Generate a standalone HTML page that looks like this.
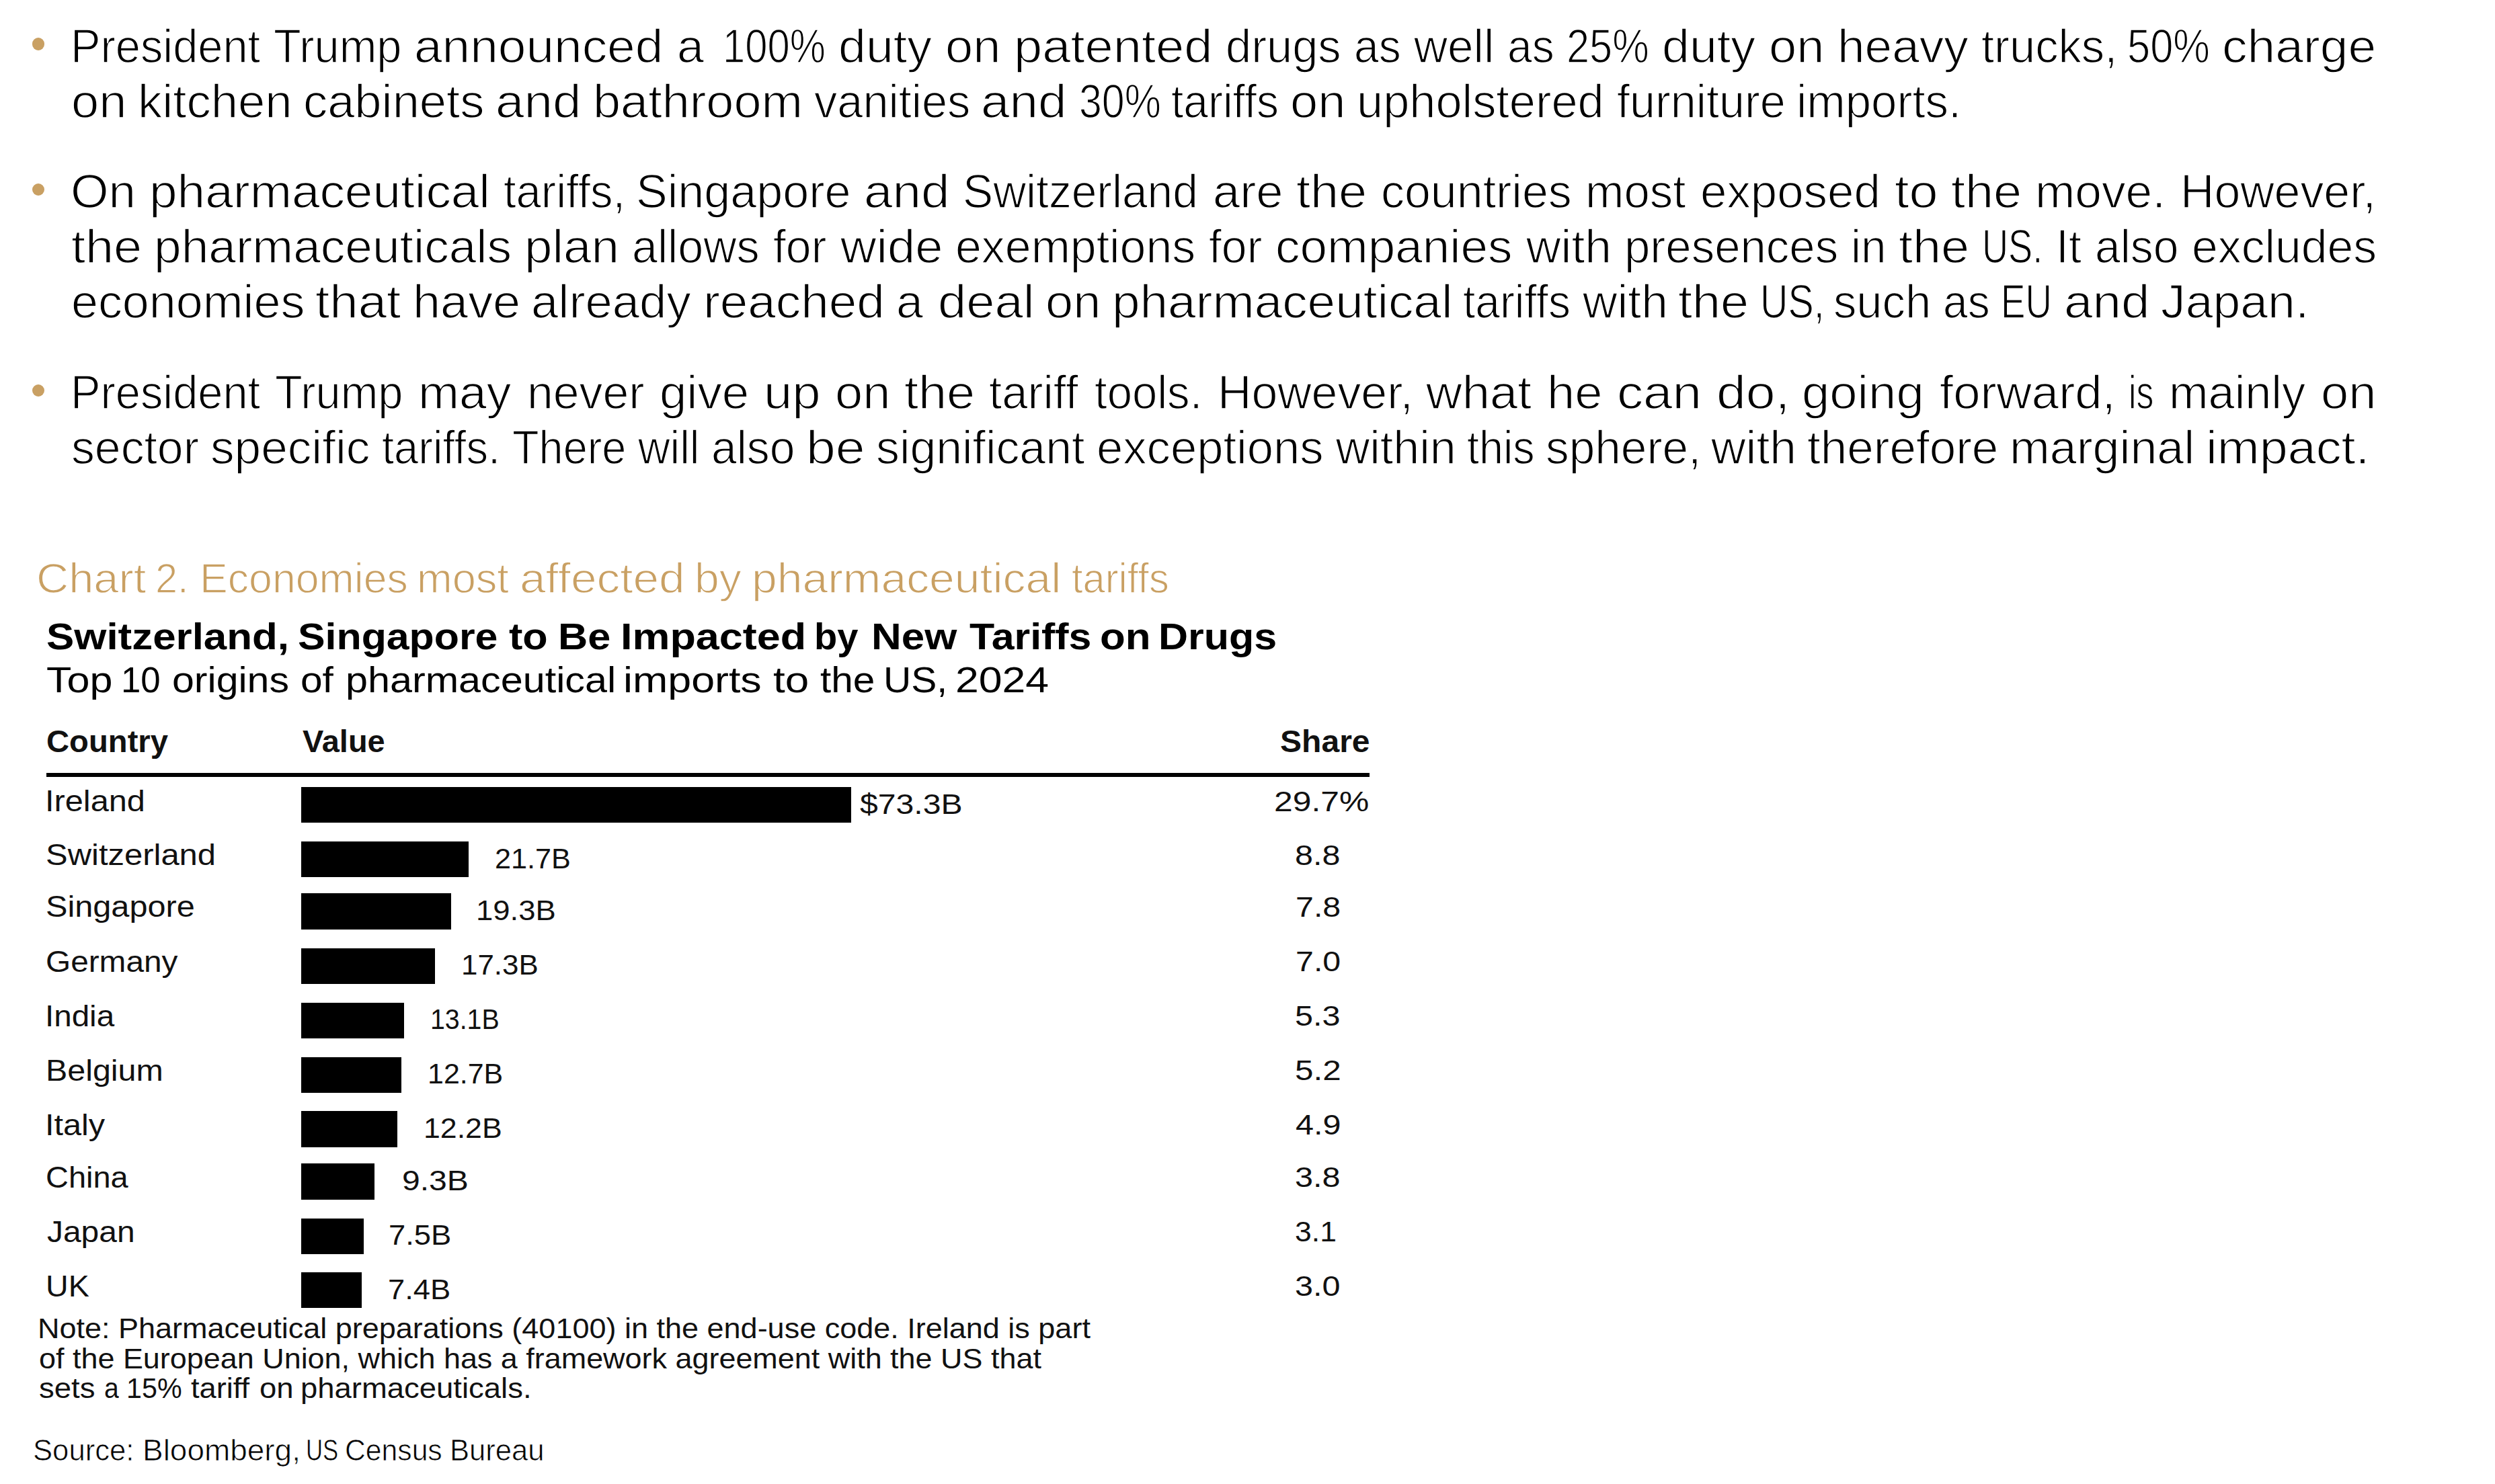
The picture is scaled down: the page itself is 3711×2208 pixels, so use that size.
<!DOCTYPE html>
<html><head><meta charset="utf-8"><title>Chart 2</title><style>
html,body{margin:0;padding:0;background:#fff;}
body{width:3711px;height:2208px;position:relative;overflow:hidden;font-family:"Liberation Sans",sans-serif;}
.t,.g,.gt,.gs{position:absolute;white-space:nowrap;transform-origin:0 0;}
.g{font-size:70px;line-height:70px;color:#000;-webkit-text-stroke:1.4px #fff;}
.gt{font-size:62.5px;line-height:62.5px;color:#C9A063;-webkit-text-stroke:1.3px #fff;}
.gs{font-size:44px;line-height:44px;color:#000;-webkit-text-stroke:0.7px #fff;}
.bar{position:absolute;background:#000;}
.dot{position:absolute;width:18.6px;height:18.6px;border-radius:50%;background:#C9A063;}
.rule{position:absolute;left:69px;top:1150px;width:1968px;height:6px;background:#000;}
</style></head><body>
<div class="dot" style="left:47.5px;top:56.0px"></div>
<div class="dot" style="left:47.6px;top:272.6px"></div>
<div class="dot" style="left:47.6px;top:571.6px"></div>
<span class="g" style="left:105.2px;top:33.9px;transform:scaleX(0.954)">President</span>
<span class="g" style="left:406.9px;top:33.9px;transform:scaleX(0.954)">Trump</span>
<span class="g" style="left:616.3px;top:33.9px;transform:scaleX(1.069)">announced</span>
<span class="g" style="left:1006.5px;top:33.9px;transform:scaleX(1.027)">a</span>
<span class="g" style="left:1075.2px;top:33.9px;transform:scaleX(0.854)">100%</span>
<span class="g" style="left:1247.1px;top:33.9px;transform:scaleX(1.050)">duty</span>
<span class="g" style="left:1406.4px;top:33.9px;transform:scaleX(1.058)">on</span>
<span class="g" style="left:1507.6px;top:33.9px;transform:scaleX(1.084)">patented</span>
<span class="g" style="left:1822.8px;top:33.9px;transform:scaleX(0.980)">drugs</span>
<span class="g" style="left:2013.6px;top:33.9px;transform:scaleX(0.942)">as</span>
<span class="g" style="left:2103.3px;top:33.9px;transform:scaleX(0.989)">well</span>
<span class="g" style="left:2242.1px;top:33.9px;transform:scaleX(0.942)">as</span>
<span class="g" style="left:2330.3px;top:33.9px;transform:scaleX(0.876)">25%</span>
<span class="g" style="left:2471.9px;top:33.9px;transform:scaleX(1.050)">duty</span>
<span class="g" style="left:2631.2px;top:33.9px;transform:scaleX(1.058)">on</span>
<span class="g" style="left:2732.5px;top:33.9px;transform:scaleX(1.042)">heavy</span>
<span class="g" style="left:2946.7px;top:33.9px;transform:scaleX(0.981)">trucks,</span>
<span class="g" style="left:3163.7px;top:33.9px;transform:scaleX(0.877)">50%</span>
<span class="g" style="left:3305.4px;top:33.9px;transform:scaleX(1.071)">charge</span>
<span class="g" style="left:105.8px;top:116.1px;transform:scaleX(1.058)">on</span>
<span class="g" style="left:204.8px;top:116.1px;transform:scaleX(1.035)">kitchen</span>
<span class="g" style="left:451.3px;top:116.1px;transform:scaleX(1.033)">cabinets</span>
<span class="g" style="left:737.2px;top:116.1px;transform:scaleX(1.092)">and</span>
<span class="g" style="left:882.0px;top:116.1px;transform:scaleX(1.055)">bathroom</span>
<span class="g" style="left:1210.6px;top:116.1px;transform:scaleX(0.979)">vanities</span>
<span class="g" style="left:1459.4px;top:116.1px;transform:scaleX(1.092)">and</span>
<span class="g" style="left:1604.7px;top:116.1px;transform:scaleX(0.870)">30%</span>
<span class="g" style="left:1742.3px;top:116.1px;transform:scaleX(0.942)">tariffs</span>
<span class="g" style="left:1919.0px;top:116.1px;transform:scaleX(1.058)">on</span>
<span class="g" style="left:2018.2px;top:116.1px;transform:scaleX(1.005)">upholstered</span>
<span class="g" style="left:2404.7px;top:116.1px;transform:scaleX(0.976)">furniture</span>
<span class="g" style="left:2672.2px;top:116.1px;transform:scaleX(0.985)">imports.</span>
<span class="g" style="left:104.6px;top:250.0px;transform:scaleX(1.039)">On</span>
<span class="g" style="left:222.2px;top:250.0px;transform:scaleX(1.068)">pharmaceutical</span>
<span class="g" style="left:748.9px;top:250.0px;transform:scaleX(0.957)">tariffs,</span>
<span class="g" style="left:945.5px;top:250.0px;transform:scaleX(1.001)">Singapore</span>
<span class="g" style="left:1285.3px;top:250.0px;transform:scaleX(1.092)">and</span>
<span class="g" style="left:1432.4px;top:250.0px;transform:scaleX(0.967)">Switzerland</span>
<span class="g" style="left:1804.3px;top:250.0px;transform:scaleX(1.032)">are</span>
<span class="g" style="left:1928.1px;top:250.0px;transform:scaleX(1.081)">the</span>
<span class="g" style="left:2053.6px;top:250.0px;transform:scaleX(0.999)">countries</span>
<span class="g" style="left:2358.0px;top:250.0px;transform:scaleX(0.984)">most</span>
<span class="g" style="left:2529.3px;top:250.0px;transform:scaleX(1.012)">exposed</span>
<span class="g" style="left:2817.9px;top:250.0px;transform:scaleX(1.105)">to</span>
<span class="g" style="left:2901.9px;top:250.0px;transform:scaleX(1.081)">the</span>
<span class="g" style="left:3027.4px;top:250.0px;transform:scaleX(1.018)">move.</span>
<span class="g" style="left:3242.5px;top:250.0px;transform:scaleX(0.997)">However,</span>
<span class="g" style="left:105.6px;top:332.0px;transform:scaleX(1.081)">the</span>
<span class="g" style="left:229.3px;top:332.0px;transform:scaleX(1.044)">pharmaceuticals</span>
<span class="g" style="left:779.8px;top:332.0px;transform:scaleX(1.065)">plan</span>
<span class="g" style="left:939.9px;top:332.0px;transform:scaleX(0.975)">allows</span>
<span class="g" style="left:1149.5px;top:332.0px;transform:scaleX(0.970)">for</span>
<span class="g" style="left:1249.9px;top:332.0px;transform:scaleX(1.058)">wide</span>
<span class="g" style="left:1420.9px;top:332.0px;transform:scaleX(0.998)">exemptions</span>
<span class="g" style="left:1798.0px;top:332.0px;transform:scaleX(0.970)">for</span>
<span class="g" style="left:1897.2px;top:332.0px;transform:scaleX(1.041)">companies</span>
<span class="g" style="left:2269.6px;top:332.0px;transform:scaleX(1.020)">with</span>
<span class="g" style="left:2415.9px;top:332.0px;transform:scaleX(0.985)">presences</span>
<span class="g" style="left:2753.1px;top:332.0px;transform:scaleX(0.963)">in</span>
<span class="g" style="left:2823.9px;top:332.0px;transform:scaleX(1.081)">the</span>
<span class="g" style="left:2947.9px;top:332.0px;transform:scaleX(0.773)">US.</span>
<span class="g" style="left:3057.8px;top:332.0px;transform:scaleX(0.971)">It</span>
<span class="g" style="left:3116.0px;top:332.0px;transform:scaleX(0.969)">also</span>
<span class="g" style="left:3259.7px;top:332.0px;transform:scaleX(0.996)">excludes</span>
<span class="g" style="left:105.6px;top:413.9px;transform:scaleX(1.026)">economies</span>
<span class="g" style="left:468.5px;top:413.9px;transform:scaleX(1.090)">that</span>
<span class="g" style="left:613.7px;top:413.9px;transform:scaleX(1.055)">have</span>
<span class="g" style="left:790.3px;top:413.9px;transform:scaleX(1.035)">already</span>
<span class="g" style="left:1045.8px;top:413.9px;transform:scaleX(1.066)">reached</span>
<span class="g" style="left:1333.1px;top:413.9px;transform:scaleX(1.026)">a</span>
<span class="g" style="left:1394.6px;top:413.9px;transform:scaleX(1.085)">deal</span>
<span class="g" style="left:1554.8px;top:413.9px;transform:scaleX(1.057)">on</span>
<span class="g" style="left:1653.6px;top:413.9px;transform:scaleX(1.067)">pharmaceutical</span>
<span class="g" style="left:2175.9px;top:413.9px;transform:scaleX(0.941)">tariffs</span>
<span class="g" style="left:2353.5px;top:413.9px;transform:scaleX(1.019)">with</span>
<span class="g" style="left:2496.3px;top:413.9px;transform:scaleX(1.080)">the</span>
<span class="g" style="left:2617.7px;top:413.9px;transform:scaleX(0.819)">US,</span>
<span class="g" style="left:2727.4px;top:413.9px;transform:scaleX(0.982)">such</span>
<span class="g" style="left:2889.8px;top:413.9px;transform:scaleX(0.941)">as</span>
<span class="g" style="left:2976.3px;top:413.9px;transform:scaleX(0.780)">EU</span>
<span class="g" style="left:3070.3px;top:413.9px;transform:scaleX(1.091)">and</span>
<span class="g" style="left:3214.1px;top:413.9px;transform:scaleX(1.048)">Japan.</span>
<span class="g" style="left:104.5px;top:548.9px;transform:scaleX(0.954)">President</span>
<span class="g" style="left:409.2px;top:548.9px;transform:scaleX(0.954)">Trump</span>
<span class="g" style="left:621.7px;top:548.9px;transform:scaleX(1.046)">may</span>
<span class="g" style="left:783.6px;top:548.9px;transform:scaleX(0.996)">never</span>
<span class="g" style="left:981.1px;top:548.9px;transform:scaleX(1.037)">give</span>
<span class="g" style="left:1135.8px;top:548.9px;transform:scaleX(1.086)">up</span>
<span class="g" style="left:1242.0px;top:548.9px;transform:scaleX(1.058)">on</span>
<span class="g" style="left:1345.4px;top:548.9px;transform:scaleX(1.081)">the</span>
<span class="g" style="left:1471.4px;top:548.9px;transform:scaleX(0.984)">tariff</span>
<span class="g" style="left:1627.7px;top:548.9px;transform:scaleX(0.958)">tools.</span>
<span class="g" style="left:1810.7px;top:548.9px;transform:scaleX(0.997)">However,</span>
<span class="g" style="left:2121.2px;top:548.9px;transform:scaleX(1.061)">what</span>
<span class="g" style="left:2301.3px;top:548.9px;transform:scaleX(1.060)">he</span>
<span class="g" style="left:2405.4px;top:548.9px;transform:scaleX(1.117)">can</span>
<span class="g" style="left:2553.1px;top:548.9px;transform:scaleX(1.125)">do,</span>
<span class="g" style="left:2680.3px;top:548.9px;transform:scaleX(1.061)">going</span>
<span class="g" style="left:2885.1px;top:548.9px;transform:scaleX(1.035)">forward,</span>
<span class="g" style="left:3166.1px;top:548.9px;transform:scaleX(0.737)">is</span>
<span class="g" style="left:3225.9px;top:548.9px;transform:scaleX(1.004)">mainly</span>
<span class="g" style="left:3452.4px;top:548.9px;transform:scaleX(1.058)">on</span>
<span class="g" style="left:105.7px;top:630.9px;transform:scaleX(0.996)">sector</span>
<span class="g" style="left:313.4px;top:630.9px;transform:scaleX(1.017)">specific</span>
<span class="g" style="left:568.1px;top:630.9px;transform:scaleX(0.930)">tariffs.</span>
<span class="g" style="left:761.8px;top:630.9px;transform:scaleX(0.926)">There</span>
<span class="g" style="left:949.0px;top:630.9px;transform:scaleX(0.941)">will</span>
<span class="g" style="left:1057.9px;top:630.9px;transform:scaleX(0.969)">also</span>
<span class="g" style="left:1198.9px;top:630.9px;transform:scaleX(1.125)">be</span>
<span class="g" style="left:1302.8px;top:630.9px;transform:scaleX(0.997)">significant</span>
<span class="g" style="left:1631.4px;top:630.9px;transform:scaleX(1.009)">exceptions</span>
<span class="g" style="left:1986.7px;top:630.9px;transform:scaleX(1.000)">within</span>
<span class="g" style="left:2181.8px;top:630.9px;transform:scaleX(0.924)">this</span>
<span class="g" style="left:2299.3px;top:630.9px;transform:scaleX(0.991)">sphere,</span>
<span class="g" style="left:2544.8px;top:630.9px;transform:scaleX(1.020)">with</span>
<span class="g" style="left:2687.8px;top:630.9px;transform:scaleX(1.015)">therefore</span>
<span class="g" style="left:2988.7px;top:630.9px;transform:scaleX(1.025)">marginal</span>
<span class="g" style="left:3280.5px;top:630.9px;transform:scaleX(1.079)">impact.</span>
<span class="gt" style="left:54.1px;top:828.6px;transform:scaleX(1.068)">Chart</span>
<span class="gt" style="left:231.2px;top:828.6px;transform:scaleX(0.951)">2.</span>
<span class="gt" style="left:296.7px;top:828.6px;transform:scaleX(1.002)">Economies</span>
<span class="gt" style="left:620.1px;top:828.6px;transform:scaleX(1.011)">most</span>
<span class="gt" style="left:772.7px;top:828.6px;transform:scaleX(1.110)">affected</span>
<span class="gt" style="left:1032.6px;top:828.6px;transform:scaleX(1.057)">by</span>
<span class="gt" style="left:1118.1px;top:828.6px;transform:scaleX(1.086)">pharmaceutical</span>
<span class="gt" style="left:1593.8px;top:828.6px;transform:scaleX(0.954)">tariffs</span>
<span class="gs" style="left:48.6px;top:2136.0px;transform:scaleX(0.992)">Source:</span>
<span class="gs" style="left:211.6px;top:2136.0px;transform:scaleX(1.044)">Bloomberg,</span>
<span class="gs" style="left:455.4px;top:2136.0px;transform:scaleX(0.789)">US</span>
<span class="gs" style="left:513.0px;top:2136.0px;transform:scaleX(0.970)">Census</span>
<span class="gs" style="left:668.8px;top:2136.0px;transform:scaleX(0.991)">Bureau</span>
<div class="t" style="left:69.4px;top:919.1px;font-size:56.2px;line-height:56.2px;font-weight:700;color:#000;transform:scaleX(1.1014)">Switzerland,</div>
<div class="t" style="left:443.1px;top:919.1px;font-size:56.2px;line-height:56.2px;font-weight:700;color:#000;transform:scaleX(1.0826)">Singapore</div>
<div class="t" style="left:756.5px;top:919.1px;font-size:56.2px;line-height:56.2px;font-weight:700;color:#000;transform:scaleX(1.0887)">to</div>
<div class="t" style="left:830.1px;top:919.1px;font-size:56.2px;line-height:56.2px;font-weight:700;color:#000;transform:scaleX(1.0891)">Be</div>
<div class="t" style="left:923.0px;top:919.1px;font-size:56.2px;line-height:56.2px;font-weight:700;color:#000;transform:scaleX(1.1196)">Impacted</div>
<div class="t" style="left:1211.3px;top:919.1px;font-size:56.2px;line-height:56.2px;font-weight:700;color:#000;transform:scaleX(0.9980)">by</div>
<div class="t" style="left:1295.8px;top:919.1px;font-size:56.2px;line-height:56.2px;font-weight:700;color:#000;transform:scaleX(1.1017)">New</div>
<div class="t" style="left:1442.2px;top:919.1px;font-size:56.2px;line-height:56.2px;font-weight:700;color:#000;transform:scaleX(1.0829)">Tariffs</div>
<div class="t" style="left:1635.9px;top:919.1px;font-size:56.2px;line-height:56.2px;font-weight:700;color:#000;transform:scaleX(1.1007)">on</div>
<div class="t" style="left:1723.4px;top:919.1px;font-size:56.2px;line-height:56.2px;font-weight:700;color:#000;transform:scaleX(1.0860)">Drugs</div>
<div class="t" style="left:69.4px;top:984.3px;font-size:54px;line-height:54px;font-weight:400;color:#000;transform:scaleX(1.1305)">Top</div>
<div class="t" style="left:180.4px;top:984.3px;font-size:54px;line-height:54px;font-weight:400;color:#000;transform:scaleX(0.9772)">10</div>
<div class="t" style="left:256.3px;top:984.3px;font-size:54px;line-height:54px;font-weight:400;color:#000;transform:scaleX(1.0937)">origins</div>
<div class="t" style="left:447.0px;top:984.3px;font-size:54px;line-height:54px;font-weight:400;color:#000;transform:scaleX(1.0856)">of</div>
<div class="t" style="left:514.4px;top:984.3px;font-size:54px;line-height:54px;font-weight:400;color:#000;transform:scaleX(1.0983)">pharmaceutical</div>
<div class="t" style="left:926.8px;top:984.3px;font-size:54px;line-height:54px;font-weight:400;color:#000;transform:scaleX(1.1622)">imports</div>
<div class="t" style="left:1150.3px;top:984.3px;font-size:54px;line-height:54px;font-weight:400;color:#000;transform:scaleX(1.1813)">to</div>
<div class="t" style="left:1220.0px;top:984.3px;font-size:54px;line-height:54px;font-weight:400;color:#000;transform:scaleX(1.0830)">the</div>
<div class="t" style="left:1313.7px;top:984.3px;font-size:54px;line-height:54px;font-weight:400;color:#000;transform:scaleX(1.0571)">US,</div>
<div class="t" style="left:1421.1px;top:984.3px;font-size:54px;line-height:54px;font-weight:400;color:#000;transform:scaleX(1.1580)">2024</div>
<div class="t" style="left:69.4px;top:1081.1px;font-size:45.4px;line-height:45.4px;font-weight:700;color:#111;transform:scaleX(1.0403)">Country</div>
<div class="t" style="left:450.4px;top:1081.3px;font-size:45.4px;line-height:45.4px;font-weight:700;color:#111;transform:scaleX(1.0345)">Value</div>
<div class="t" style="left:1904.2px;top:1080.9px;font-size:45.4px;line-height:45.4px;font-weight:700;color:#111;transform:scaleX(1.0588)">Share</div>
<div class="t" style="left:66.9px;top:1168.5px;font-size:45px;line-height:45px;font-weight:400;color:#111;transform:scaleX(1.0823)">Ireland</div>
<div class="t" style="left:67.5px;top:1249.1px;font-size:45px;line-height:45px;font-weight:400;color:#111;transform:scaleX(1.0880)">Switzerland</div>
<div class="t" style="left:67.5px;top:1326.4px;font-size:45px;line-height:45px;font-weight:400;color:#111;transform:scaleX(1.0810)">Singapore</div>
<div class="t" style="left:67.6px;top:1407.7px;font-size:45px;line-height:45px;font-weight:400;color:#111;transform:scaleX(1.0613)">Germany</div>
<div class="t" style="left:67.0px;top:1488.9px;font-size:45px;line-height:45px;font-weight:400;color:#111;transform:scaleX(1.0565)">India</div>
<div class="t" style="left:68.0px;top:1570.2px;font-size:45px;line-height:45px;font-weight:400;color:#111;transform:scaleX(1.0752)">Belgium</div>
<div class="t" style="left:66.9px;top:1650.7px;font-size:45px;line-height:45px;font-weight:400;color:#111;transform:scaleX(1.0806)">Italy</div>
<div class="t" style="left:68.3px;top:1728.7px;font-size:45px;line-height:45px;font-weight:400;color:#111;transform:scaleX(1.0433)">China</div>
<div class="t" style="left:69.9px;top:1809.8px;font-size:45px;line-height:45px;font-weight:400;color:#111;transform:scaleX(1.0648)">Japan</div>
<div class="t" style="left:68.1px;top:1890.9px;font-size:45px;line-height:45px;font-weight:400;color:#111;transform:scaleX(1.0353)">UK</div>
<div class="t" style="left:1279.1px;top:1174.8px;font-size:43px;line-height:43px;font-weight:400;color:#111;transform:scaleX(1.1203)">$73.3B</div>
<div class="t" style="left:735.9px;top:1255.7px;font-size:43px;line-height:43px;font-weight:400;color:#111;transform:scaleX(1.0047)">21.7B</div>
<div class="t" style="left:708.0px;top:1333.3px;font-size:43px;line-height:43px;font-weight:400;color:#111;transform:scaleX(1.0567)">19.3B</div>
<div class="t" style="left:685.5px;top:1414.4px;font-size:43px;line-height:43px;font-weight:400;color:#111;transform:scaleX(1.0214)">17.3B</div>
<div class="t" style="left:640.2px;top:1495.4px;font-size:43px;line-height:43px;font-weight:400;color:#111;transform:scaleX(0.9137)">13.1B</div>
<div class="t" style="left:635.9px;top:1576.2px;font-size:43px;line-height:43px;font-weight:400;color:#111;transform:scaleX(0.9992)">12.7B</div>
<div class="t" style="left:629.8px;top:1657.4px;font-size:43px;line-height:43px;font-weight:400;color:#111;transform:scaleX(1.0391)">12.2B</div>
<div class="t" style="left:598.4px;top:1735.0px;font-size:43px;line-height:43px;font-weight:400;color:#111;transform:scaleX(1.1182)">9.3B</div>
<div class="t" style="left:578.0px;top:1815.9px;font-size:43px;line-height:43px;font-weight:400;color:#111;transform:scaleX(1.0545)">7.5B</div>
<div class="t" style="left:576.8px;top:1896.8px;font-size:43px;line-height:43px;font-weight:400;color:#111;transform:scaleX(1.0534)">7.4B</div>
<div class="t" style="left:1895.4px;top:1171.1px;font-size:43px;line-height:43px;font-weight:400;color:#111;transform:scaleX(1.1585)">29.7%</div>
<div class="t" style="left:1926.3px;top:1250.6px;font-size:43px;line-height:43px;font-weight:400;color:#111;transform:scaleX(1.1268)">8.8</div>
<div class="t" style="left:1926.5px;top:1327.9px;font-size:43px;line-height:43px;font-weight:400;color:#111;transform:scaleX(1.1238)">7.8</div>
<div class="t" style="left:1926.5px;top:1408.8px;font-size:43px;line-height:43px;font-weight:400;color:#111;transform:scaleX(1.1238)">7.0</div>
<div class="t" style="left:1926.2px;top:1490.2px;font-size:43px;line-height:43px;font-weight:400;color:#111;transform:scaleX(1.1303)">5.3</div>
<div class="t" style="left:1926.1px;top:1571.1px;font-size:43px;line-height:43px;font-weight:400;color:#111;transform:scaleX(1.1502)">5.2</div>
<div class="t" style="left:1927.3px;top:1652.0px;font-size:43px;line-height:43px;font-weight:400;color:#111;transform:scaleX(1.1303)">4.9</div>
<div class="t" style="left:1926.2px;top:1729.7px;font-size:43px;line-height:43px;font-weight:400;color:#111;transform:scaleX(1.1303)">3.8</div>
<div class="t" style="left:1926.3px;top:1810.6px;font-size:43px;line-height:43px;font-weight:400;color:#111;transform:scaleX(1.0359)">3.1</div>
<div class="t" style="left:1926.2px;top:1891.5px;font-size:43px;line-height:43px;font-weight:400;color:#111;transform:scaleX(1.1303)">3.0</div>
<div class="t" style="left:55.5px;top:1955.3px;font-size:43px;line-height:43px;font-weight:400;color:#111;transform:scaleX(1.0465)">Note: Pharmaceutical preparations (40100) in the end-use code. Ireland is part</div>
<div class="t" style="left:57.6px;top:1999.6px;font-size:43px;line-height:43px;font-weight:400;color:#111;transform:scaleX(1.0448)">of the European Union, which has a framework agreement with the US that</div>
<div class="t" style="left:57.9px;top:2044.1px;font-size:43px;line-height:43px;font-weight:400;color:#111;transform:scaleX(1.0581)">sets</div>
<div class="t" style="left:154.9px;top:2044.1px;font-size:43px;line-height:43px;font-weight:400;color:#111;transform:scaleX(0.9087)">a</div>
<div class="t" style="left:188.2px;top:2044.1px;font-size:43px;line-height:43px;font-weight:400;color:#111;transform:scaleX(0.9593)">15%</div>
<div class="t" style="left:284.0px;top:2044.1px;font-size:43px;line-height:43px;font-weight:400;color:#111;transform:scaleX(1.0512)">tariff</div>
<div class="t" style="left:386.2px;top:2044.1px;font-size:43px;line-height:43px;font-weight:400;color:#111;transform:scaleX(1.0576)">on</div>
<div class="t" style="left:447.1px;top:2044.1px;font-size:43px;line-height:43px;font-weight:400;color:#111;transform:scaleX(1.0569)">pharmaceuticals.</div>
<div class="rule"></div>
<div class="bar" style="left:448px;top:1171.1px;width:818.0px;height:53.2px"></div>
<div class="bar" style="left:448px;top:1251.8px;width:249.0px;height:53.4px"></div>
<div class="bar" style="left:448px;top:1329.4px;width:222.5px;height:53.7px"></div>
<div class="bar" style="left:448px;top:1410.6px;width:199.0px;height:53.4px"></div>
<div class="bar" style="left:448px;top:1491.6px;width:152.6px;height:53.4px"></div>
<div class="bar" style="left:448px;top:1572.5px;width:149.3px;height:53.4px"></div>
<div class="bar" style="left:448px;top:1653.4px;width:142.7px;height:53.4px"></div>
<div class="bar" style="left:448px;top:1731.3px;width:109.4px;height:53.4px"></div>
<div class="bar" style="left:448px;top:1812.5px;width:92.8px;height:53.1px"></div>
<div class="bar" style="left:448px;top:1893.4px;width:89.5px;height:53.0px"></div>
</body></html>
